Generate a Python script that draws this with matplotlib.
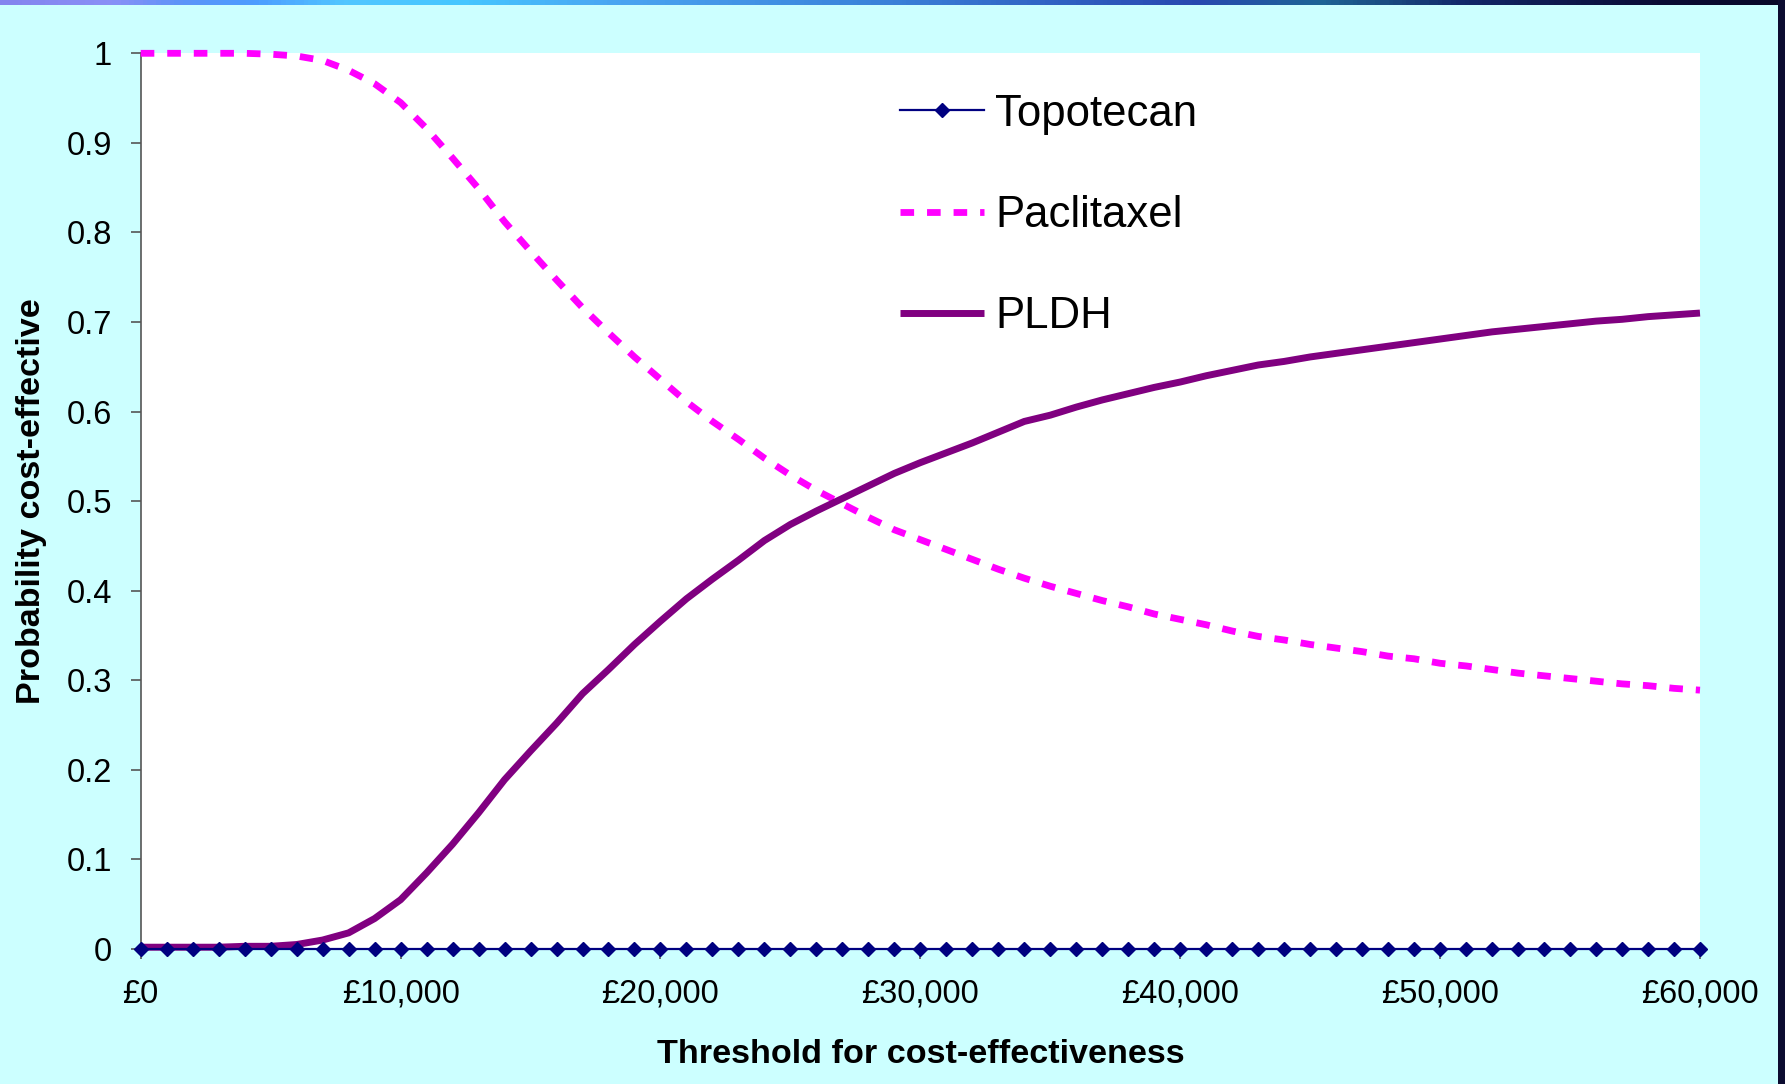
import numpy as np
import matplotlib
matplotlib.use("Agg")
import matplotlib.pyplot as plt
from matplotlib.colors import LinearSegmentedColormap
from matplotlib.patches import Rectangle
from matplotlib.ticker import FuncFormatter, MultipleLocator

# Soglie (in sterline) e probabilita'
soglie = [0, 1000, 2000, 3000, 4000, 5000, 6000, 7000, 8000, 9000,
          10000, 11000, 12000, 13000, 14000, 15000, 16000, 17000, 18000, 19000,
          20000, 21000, 22000, 23000, 24000, 25000, 26000, 27000, 28000, 29000,
          30000, 31000, 32000, 33000, 34000, 35000, 36000, 37000, 38000, 39000,
          40000, 41000, 42000, 43000, 44000, 45000, 46000, 47000, 48000, 49000,
          50000, 51000, 52000, 53000, 54000, 55000, 56000, 57000, 58000, 59000,
          60000]

topotecan = [0.0, 0.0, 0.0, 0.0, 0.0, 0.0, 0.0, 0.0, 0.0, 0.0,
             0.0, 0.0, 0.0, 0.0, 0.0, 0.0, 0.0, 0.0, 0.0, 0.0,
             0.0, 0.0, 0.0, 0.0, 0.0, 0.0, 0.0, 0.0, 0.0, 0.0,
             0.0, 0.0, 0.0, 0.0, 0.0, 0.0, 0.0, 0.0, 0.0, 0.0,
             0.0, 0.0, 0.0, 0.0, 0.0, 0.0, 0.0, 0.0, 0.0, 0.0,
             0.0, 0.0, 0.0, 0.0, 0.0, 0.0, 0.0, 0.0, 0.0, 0.0,
             0.0]

paclitaxel = [1.0, 1.0, 1.0, 1.0, 1.0, 0.999, 0.997, 0.992, 0.981, 0.966,
              0.945, 0.916, 0.883, 0.849, 0.812, 0.779, 0.747, 0.716, 0.688, 0.661,
              0.636, 0.611, 0.589, 0.569, 0.548, 0.529, 0.512, 0.497, 0.482, 0.468,
              0.457, 0.446, 0.435, 0.424, 0.414, 0.405, 0.397, 0.389, 0.382, 0.374,
              0.368, 0.362, 0.355, 0.349, 0.345, 0.340, 0.336, 0.332, 0.327, 0.324,
              0.319, 0.316, 0.312, 0.308, 0.305, 0.302, 0.299, 0.296, 0.294, 0.291,
              0.289]

pldh = [0.002, 0.002, 0.002, 0.002, 0.003, 0.003, 0.005, 0.010, 0.018, 0.034,
        0.055, 0.085, 0.117, 0.152, 0.189, 0.221, 0.252, 0.285, 0.312, 0.340,
        0.366, 0.391, 0.413, 0.434, 0.456, 0.474, 0.489, 0.503, 0.517, 0.531,
        0.543, 0.554, 0.565, 0.577, 0.589, 0.596, 0.605, 0.613, 0.620, 0.627,
        0.633, 0.640, 0.646, 0.652, 0.656, 0.661, 0.665, 0.669, 0.673, 0.677,
        0.681, 0.685, 0.689, 0.692, 0.695, 0.698, 0.701, 0.703, 0.706, 0.708,
        0.710]

plt.rcParams['font.family'] = ['Liberation Sans', 'DejaVu Sans']

W, H = 1785, 1084
fig = plt.figure(figsize=(W / 100, H / 100), dpi=100, facecolor='#CCFFFF')

# striscia sfumata in alto (resto della slide)
barra = LinearSegmentedColormap.from_list('barra', [
    (0.00, '#8484ee'), (0.06, '#8a90f6'), (0.10, '#5c94f8'), (0.14, '#4c9cff'),
    (0.19, '#52c6ff'), (0.26, '#44c6ff'), (0.34, '#4aa6f2'), (0.50, '#3a80d8'),
    (0.67, '#2848b0'), (0.74, '#1e6496'), (0.78, '#1a4a80'), (0.82, '#12286a'),
    (0.87, '#0e1a50'), (0.93, '#0a0c35'), (1.00, '#080828')])
ax_barra = fig.add_axes([0, 1 - 5 / H, 1, 5 / H])
ax_barra.imshow(np.linspace(0, 1, 400).reshape(1, -1), aspect='auto', cmap=barra)
ax_barra.axis('off')
fig.patches.append(Rectangle((1778 / W, 0), 7 / W, 1, transform=fig.transFigure,
                             facecolor='#0c0c30', edgecolor='none'))

ax = fig.add_axes([140.7 / W, 1 - 949 / H, (1700 - 140.7) / W, (949 - 53.3) / H])
ax.set_facecolor('white')

ax.plot(soglie, paclitaxel, color='#FF00FF', lw=4.9, dashes=(2.0, 1.9),
        dash_capstyle='butt', label='Paclitaxel', clip_on=False, zorder=3)
ax.plot(soglie, pldh, color='#800080', lw=5, label='PLDH', clip_on=False,
        solid_capstyle='butt', zorder=3)
ax.plot(soglie, topotecan, color='#000080', lw=1.6, marker='D', ms=7.6,
        label='Topotecan', clip_on=False, zorder=4)

ax.set_xlim(0, 60000)
ax.set_ylim(0, 1)
ax.xaxis.set_major_locator(MultipleLocator(10000))
ax.yaxis.set_major_locator(MultipleLocator(0.1))
ax.xaxis.set_major_formatter(FuncFormatter(lambda v, p: '£{:,.0f}'.format(v)))
ax.yaxis.set_major_formatter(FuncFormatter(lambda v, p: '{:g}'.format(round(v, 1))))

for lato in ['top', 'right']:
    ax.spines[lato].set_visible(False)
for lato in ['left', 'bottom']:
    ax.spines[lato].set_color('#555555')
    ax.spines[lato].set_linewidth(1.2)
ax.tick_params(axis='both', direction='out', length=7.5, width=1.2, color='#555555',
               labelsize=23.5, labelcolor='black')
ax.tick_params(axis='y', pad=13)
ax.tick_params(axis='x', pad=14)

ax.set_xlabel('Threshold for cost-effectiveness', fontsize=24.6, fontweight='bold', va='center')
ax.set_ylabel('Probability cost-effective', fontsize=24.6, fontweight='bold', va='center')
ax.xaxis.set_label_coords(0.5, -0.118)
ax.yaxis.set_label_coords(-0.0703, 0.5)

maniglie, etichette = ax.get_legend_handles_labels()
ordine = [2, 0, 1]
ax.legend([maniglie[i] for i in ordine], [etichette[i] for i in ordine],
          loc='upper left', bbox_to_anchor=(0.487, 0.955), frameon=False,
          fontsize=31.5, handlelength=1.92, handletextpad=0.25,
          labelspacing=1.38, borderpad=0, borderaxespad=0)

fig.savefig('out.png', dpi=100, facecolor=fig.get_facecolor())
